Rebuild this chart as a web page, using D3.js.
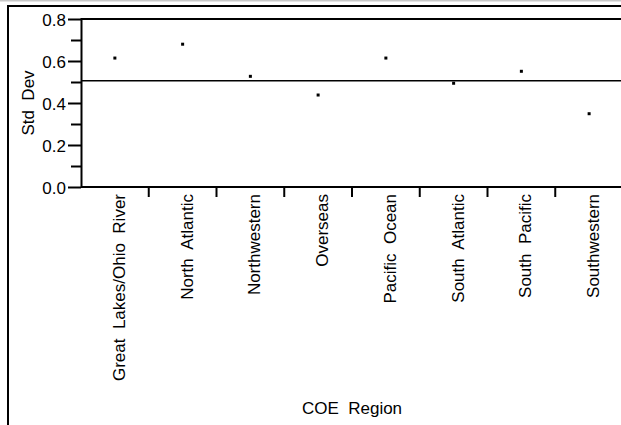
<!DOCTYPE html>
<html>
<head>
<meta charset="utf-8">
<script src="https://cdn.jsdelivr.net/npm/d3@7"></script>
<style>
  html, body { margin: 0; padding: 0; background: #fff; }
  svg { display: block; }
  text { font-family: "Liberation Sans", Arial, sans-serif; fill: #000; }
</style>
</head>
<body>
<svg id="chart" width="621" height="425"></svg>
<script>
// ---- data ----
const regions = ["Great Lakes/Ohio River", "North Atlantic", "Northwestern", "Overseas",
                 "Pacific Ocean", "South Atlantic", "South Pacific", "Southwestern"];
const stdDev = [0.614, 0.680, 0.527, 0.438, 0.614, 0.494, 0.551, 0.349];
const overallStdDev = 0.506;
const yMajorTicks = [0.0, 0.2, 0.4, 0.6, 0.8];
const yMinorTicks = [0.1, 0.3, 0.5, 0.7];
const yLabel = "Std Dev";
const xLabel = "COE Region";

// ---- layout ----
const svg = d3.select("#chart");
const pLeft = 81, pRight = 623, pTop = 19, pBottom = 187;
const FS = "17px";

const x = d3.scaleBand().domain(regions).range([pLeft, pRight]);
const y = d3.scaleLinear().domain([0, 0.8]).range([pBottom, pTop]);

// outer window decoration
svg.append("line").attr("x1", 0).attr("x2", 621).attr("y1", 0.75).attr("y2", 0.75)
  .attr("stroke", "#c8c8c8").attr("stroke-width", 1.5);
svg.append("line").attr("x1", 7).attr("x2", 621).attr("y1", 6).attr("y2", 6)
  .attr("stroke", "#000").attr("stroke-width", 2);
svg.append("line").attr("x1", 8).attr("x2", 8).attr("y1", 5).attr("y2", 425)
  .attr("stroke", "#000").attr("stroke-width", 2);

// y axis (major ticks)
const yAxis = d3.axisLeft(y).tickValues(yMajorTicks).tickFormat(d3.format(".1f"))
  .tickSizeInner(13).tickSizeOuter(0).tickPadding(2);
const gy = svg.append("g").attr("transform", `translate(${pLeft},0)`).call(yAxis);
gy.select(".domain").remove();
gy.selectAll(".tick line").attr("stroke", "#000").attr("stroke-width", 2);
gy.selectAll(".tick text").style("font-size", FS).attr("dy", "0.36em");

// minor ticks
const yMinor = d3.axisLeft(y).tickValues(yMinorTicks).tickFormat("").tickSizeInner(10).tickSizeOuter(0);
const gym = svg.append("g").attr("transform", `translate(${pLeft},0)`).call(yMinor);
gym.select(".domain").remove();
gym.selectAll(".tick line").attr("stroke", "#000").attr("stroke-width", 2);

// plot frame lines: left axis, top
svg.append("line").attr("x1", pLeft + 0.5).attr("x2", pLeft + 0.5).attr("y1", pTop - 1).attr("y2", pBottom + 1)
  .attr("stroke", "#000").attr("stroke-width", 2);
svg.append("line").attr("x1", pLeft).attr("x2", 621).attr("y1", y(0.8)).attr("y2", y(0.8))
  .attr("stroke", "#000").attr("stroke-width", 2);

// x axis
const xAxis = d3.axisBottom(x).tickSize(0).tickFormat("");
const gx = svg.append("g").attr("transform", `translate(0,${pBottom})`).call(xAxis);
gx.select(".domain").remove();
svg.append("line").attr("x1", pLeft).attr("x2", 621).attr("y1", pBottom).attr("y2", pBottom)
  .attr("stroke", "#000").attr("stroke-width", 2);

// separator ticks between categories
svg.append("g").selectAll("line").data(regions.slice(1)).join("line")
  .attr("x1", d => x(d)).attr("x2", d => x(d))
  .attr("y1", pBottom).attr("y2", pBottom + 10)
  .attr("stroke", "#000").attr("stroke-width", 2);

// category labels, rotated
svg.append("g").selectAll("text").data(regions).join("text")
  .attr("transform", d => `translate(${x(d) + x.bandwidth() / 2 + 10},${pBottom + 7}) rotate(-90)`)
  .attr("text-anchor", "end")
  .style("font-size", FS)
  .style("white-space", "pre")
  .text(d => d.replace(/ /g, "  "));

// reference line (overall)
svg.append("line").attr("x1", pLeft).attr("x2", 621)
  .attr("y1", y(overallStdDev)).attr("y2", y(overallStdDev))
  .attr("stroke", "#000").attr("stroke-width", 1.6);

// points
svg.append("g").selectAll("rect").data(stdDev).join("rect")
  .attr("x", (d, i) => x(regions[i]) + x.bandwidth() / 2 - 1.5)
  .attr("y", d => y(d) - 1.5)
  .attr("width", 3).attr("height", 3)
  .attr("fill", "#000");

// axis titles
svg.append("text")
  .attr("transform", `translate(34,${(pTop + pBottom) / 2}) rotate(-90)`)
  .attr("text-anchor", "middle")
  .style("font-size", FS).style("white-space", "pre")
  .text(yLabel.replace(/ /g, "  "));

svg.append("text")
  .attr("x", (pLeft + pRight) / 2).attr("y", 414)
  .attr("text-anchor", "middle")
  .style("font-size", FS).style("white-space", "pre")
  .text(xLabel.replace(/ /g, "  "));
</script>
</body>
</html>
